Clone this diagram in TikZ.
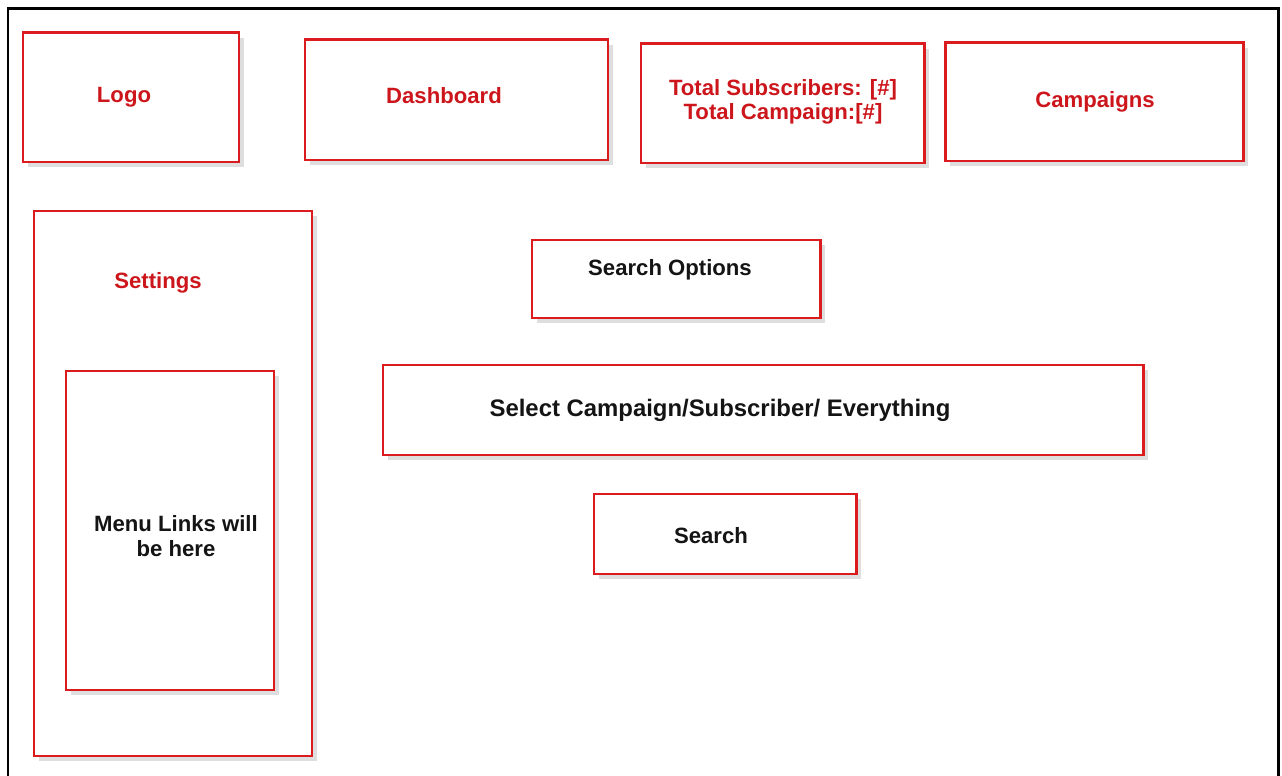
\documentclass[tikz,border=0pt]{standalone}
\usepackage{fontspec}
\setmainfont{Liberation Sans}
\usetikzlibrary{shadows}
\definecolor{wfred}{RGB}{218,28,30}
\definecolor{wftext}{RGB}{205,22,28}

\begin{document}
\begin{tikzpicture}[x=0.02cm,y=-0.02cm]
\tikzstyle{every node}+=[inner sep=0pt, align=center, font=\fontsize{12.6}{14.2}\selectfont\bfseries]
\tikzstyle{box}=[draw=wfred, line width=1.7pt, fill=white, drop shadow={shadow xshift=3pt, shadow yshift=-3pt, fill=black!25, opacity=0.5}]
\tikzstyle{redtext}=[text=wftext]
\tikzstyle{blacktext}=[text=black!92]
\useasboundingbox (0,0) rectangle (1282,776);
\fill [white] (0,0) rectangle (1282,776);
% page frame, bottom edge runs off the picture
\draw [black, line width=1.7pt] (8,800) -- (8,9) -- (1278,9) -- (1278,800);
% header row
\draw [box] (23,33) rectangle (239,162);
\node [redtext] (logo) at (124,97) {Logo};
\draw [box] (305,40) rectangle (608,160);
\node [redtext] (dashboard) at (444,96) {Dashboard};
\draw [box] (641,44) rectangle (924,163);
\node [redtext, font=\fontsize{12.6}{13.6}\selectfont\bfseries] (totals) at (783,102) {Total Subscribers: [\#]\\Total Campaign:[\#]};
\draw [box] (945,43) rectangle (1243,161);
\node [redtext] (campaigns) at (1095,102) {Campaigns};
% side menu
\draw [box] (34,211) rectangle (312,756);
\node [redtext] (settings) at (158,283) {Settings};
\draw [box] (66,371) rectangle (274,690);
\node [blacktext] (menulinks) at (176,536) {Menu Links will\\be here};
% search area
\draw [box] (532,240) rectangle (820,318);
\node [blacktext] (searchopts) at (670,270) {Search Options};
\draw [box] (383,365) rectangle (1143,455);
\node [blacktext, font=\fontsize{13.6}{15}\selectfont\bfseries] (select) at (720,410) {Select Campaign/Subscriber/ Everything};
\draw [box] (594,494) rectangle (856,574);
\node [blacktext] (search) at (711,536) {Search};
\end{tikzpicture}
\end{document}
